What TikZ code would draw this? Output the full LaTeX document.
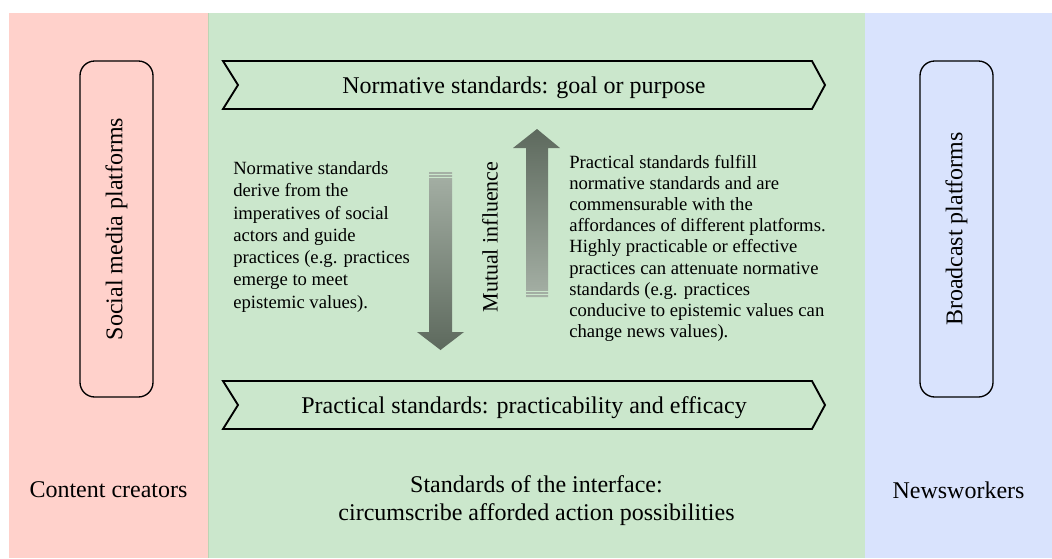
\documentclass[tikz,border=0pt]{standalone}
\usepackage{fontspec}
\setmainfont{Liberation Serif}
\usetikzlibrary{positioning}

\definecolor{creatorpink}{RGB}{255,209,203}
\definecolor{interfacegreen}{RGB}{203,231,204}
\definecolor{workerblue}{RGB}{217,227,253}
\definecolor{greenedge}{RGB}{188,212,180}
\definecolor{arrowdark}{RGB}{93,105,93}
\definecolor{arrowlight}{RGB}{165,176,165}

\begin{document}
\begin{tikzpicture}[
        x=0.75pt, y=-0.75pt,
        big/.style={font=\fontsize{18}{21}\selectfont, align=center, inner sep=0pt},
        platform/.style={big, draw, line width=1pt, rounded corners=11pt, rotate=90, minimum width=252pt, minimum height=54.75pt},
        banner/.style={draw, line width=1.4pt},
        note/.style={align=left, inner sep=0pt, anchor=north west}
    ]

    \useasboundingbox (0,0) rectangle (1052,558);

    % three columns
    \fill [creatorpink] (9,13) rectangle (208,558);
    \fill [interfacegreen] (208,13) rectangle (865,558);
    \fill [workerblue] (865,13) rectangle (1052,558);
    \draw [greenedge, line width=0.5] (208,13) -- (208,558);

    \node (social) [platform] at (116.5,229) {Social media platforms};
    \node (broadcast) [platform] at (956.5,229) {Broadcast platforms};
    \node (creators) [big] at (108.5,490) {Content creators};
    \node (workers) [big] at (958.5,490) {Newsworkers};

    % banners
    \draw [banner] (223,61) -- (812,61) -- (825,85) -- (812,109) -- (223,109) -- (238,85) -- cycle;
    \draw [banner] (223,381) -- (812,381) -- (825,405) -- (812,429) -- (223,429) -- (238,405) -- cycle;
    \node (normative) [big, anchor=base] at (524,93) {Normative standards: goal or purpose};
    \node (practical) [big, anchor=base] at (524,413) {Practical standards: practicability and efficacy};
    \node (interface) [big] at (536.5,500.5) {Standards of the interface:\\circumscribe afforded action possibilities};

    % mutual influence arrows
    \shade [top color=arrowlight, bottom color=arrowdark] (429,172) -- (452,172) -- (452,332) -- (464,332) -- (440.5,350) -- (417,332) -- (429,332) -- cycle;
    \draw [interfacegreen, line width=1] (428,174.5) -- (453,174.5);
    \draw [interfacegreen, line width=1] (428,177.5) -- (453,177.5);
    \shade [top color=arrowdark, bottom color=arrowlight] (526,297) -- (526,148) -- (513,148) -- (537,129) -- (560,148) -- (548,148) -- (548,297) -- cycle;
    \draw [interfacegreen, line width=1] (525,291.5) -- (549,291.5);
    \draw [interfacegreen, line width=1] (525,294.5) -- (549,294.5);
    \node (mutual) [font=\fontsize{16.5}{20}\selectfont, rotate=90, inner sep=0pt] at (490,237) {Mutual influence};

    \node (derive) [note, font=\fontsize{14}{16.7}\selectfont] at (233,161.3) {Normative standards\\derive from the\\imperatives of social\\actors and guide\\practices (e.g. practices\\emerge to meet\\epistemic values).};
    \node (fulfill) [note, font=\fontsize{14}{15.8}\selectfont] at (569,155.3) {Practical standards fulfill\\normative standards and are\\commensurable with the\\affordances of different platforms.\\Highly practicable or effective\\practices can attenuate normative\\standards (e.g. practices\\conducive to epistemic values can\\change news values).};

\end{tikzpicture}
\end{document}
